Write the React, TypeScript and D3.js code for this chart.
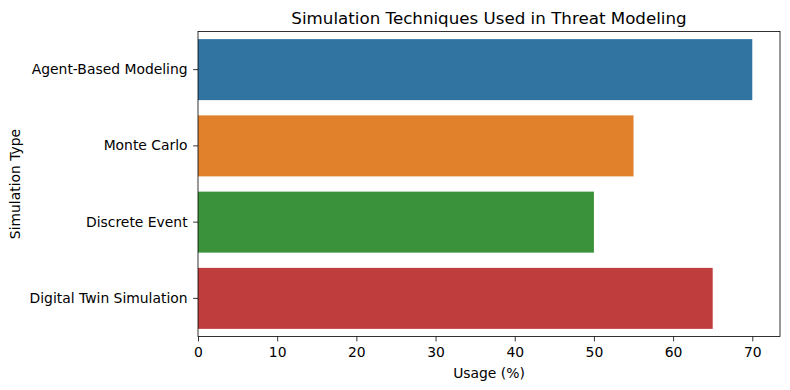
import React, { useRef, useEffect } from "react";
import * as d3 from "d3";

// Data
const categories = ["Agent-Based Modeling", "Monte Carlo", "Discrete Event", "Digital Twin Simulation"];
const usage = [70, 55, 50, 65];
const barColors = ["#3274a1", "#e1812c", "#3a923a", "#c03d3e"];
const xTicks = [0, 10, 20, 30, 40, 50, 60, 70];

const Chart = () => {
  const svgRef = useRef<SVGSVGElement>(null);

  useEffect(() => {
    const width = 790;
    const height = 390;
    const m = { left: 198, right: 10, top: 31.5, bottom: 53.5 };
    const innerW = width - m.left - m.right;
    const innerH = height - m.top - m.bottom;

    const svg = d3.select(svgRef.current).attr("width", width).attr("height", height);
    svg.selectAll("*").remove();

    const font = "DejaVu Sans, sans-serif";

    const xScale = d3.scaleLinear().domain([0, d3.max(usage)! * 1.05]).range([0, innerW]);
    const yScale = d3.scaleBand().domain(categories).range([0, innerH]).paddingInner(0.2).paddingOuter(0.1);

    const g = svg.append("g").attr("transform", `translate(${m.left},${m.top})`);

    // bars
    g.selectAll("rect.bar")
      .data(categories)
      .join("rect")
      .attr("class", "bar")
      .attr("x", 0)
      .attr("y", (d) => yScale(d)!)
      .attr("width", (d, i) => xScale(usage[i]))
      .attr("height", yScale.bandwidth())
      .attr("fill", (d, i) => barColors[i]);

    // axes
    const xAxis = d3.axisBottom(xScale).tickValues(xTicks).tickSize(4.9).tickPadding(5.5);
    const xg = g.append("g").attr("transform", `translate(0,${innerH})`).call(xAxis);
    const yAxis = d3.axisLeft(yScale).tickSize(4.9).tickPadding(5.5);
    const yg = g.append("g").call(yAxis);
    [xg, yg].forEach((a) => {
      a.select(".domain").remove();
      a.selectAll("line").attr("stroke", "#000").attr("stroke-width", 0.8);
      a.selectAll("text").attr("font-family", font).attr("font-size", 13.9).attr("fill", "#000");
    });

    // frame
    g.append("rect")
      .attr("width", innerW)
      .attr("height", innerH)
      .attr("fill", "none")
      .attr("stroke", "#000")
      .attr("stroke-width", 0.8);

    // labels
    svg.append("text")
      .attr("x", m.left + innerW / 2)
      .attr("y", 24)
      .attr("text-anchor", "middle")
      .attr("font-family", font)
      .attr("font-size", 16.7)
      .text("Simulation Techniques Used in Threat Modeling");

    svg.append("text")
      .attr("x", m.left + innerW / 2)
      .attr("y", 378)
      .attr("text-anchor", "middle")
      .attr("font-family", font)
      .attr("font-size", 13.9)
      .text("Usage (%)");

    svg.append("text")
      .attr("transform", `translate(19.5,${m.top + innerH / 2}) rotate(-90)`)
      .attr("text-anchor", "middle")
      .attr("font-family", font)
      .attr("font-size", 13.9)
      .text("Simulation Type");
  }, []);

  return <svg ref={svgRef} style={{ display: "block" }} />;
};

const App = () => (
  <div style={{ margin: -8 }}>
    <Chart />
  </div>
);

export default App;
